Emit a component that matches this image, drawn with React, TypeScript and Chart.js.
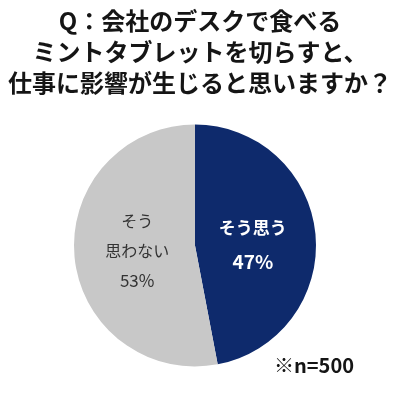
import React, { useEffect, useRef } from "react";
import { Chart, registerables } from "chart.js";

Chart.register(...registerables);

const titleLines = ["Q：会社のデスクで食べる", "ミントタブレットを切らすと、", "仕事に影響が生じると思いますか？"];
const categories = ["そう思う", "そう思わない"];
const values = [47, 53];
const sliceLabelLines = [["そう思う", "47%"], ["そう", "思わない", "53%"]];
const footnote = "※n=500";

const FONT = "'Noto Sans CJK JP', 'Noto Sans', sans-serif";

const overlayPlugin = {
  id: "overlay",
  afterDraw(chart: any) {
    const ctx = chart.ctx;
    ctx.save();
    // title
    ctx.fillStyle = "#151515";
    ctx.font = `bold 24px ${FONT}`;
    ctx.textAlign = "center";
    ctx.textBaseline = "middle";
    titleLines.forEach((t, i) => ctx.fillText(t, 200, 21 + i * 31));

    // slice labels
    const meta = chart.getDatasetMeta(0);
    meta.data.forEach((arc: any, i: number) => {
      const mid = (arc.startAngle + arc.endAngle) / 2;
      const d = arc.outerRadius * 0.48;
      const x = arc.x + Math.cos(mid) * d;
      let y = arc.y + Math.sin(mid) * d;
      const lines = sliceLabelLines[i];
      const dark = i === 0;
      ctx.fillStyle = dark ? "#ffffff" : "#333333";
      const gap = dark ? 34 : 30;
      if (dark) y += 5;
      const top = y - ((lines.length - 1) * gap) / 2;
      lines.forEach((l, j) => {
        ctx.font = dark ? `bold ${j === lines.length - 1 ? 19 : 17}px ${FONT}` : `${j === lines.length - 1 ? 17 : 16}px ${FONT}`;
        ctx.fillText(l, x, top + j * gap);
      });
    });

    // footnote
    ctx.fillStyle = "#151515";
    ctx.font = `bold 20px ${FONT}`;
    ctx.textAlign = "left";
    ctx.fillText(footnote, 274, 365);
    ctx.restore();
  },
};

export default function App() {
  const ref = useRef<HTMLCanvasElement>(null);
  useEffect(() => {
    document.body.style.margin = "0";
    const chart = new Chart(ref.current!, {
      type: "pie",
      data: {
        labels: categories,
        datasets: [
          {
            data: values,
            backgroundColor: ["#0e2a6c", "#c8c8c8"],
            borderWidth: 0,
          },
        ],
      },
      options: {
        responsive: false,
        animation: false,
        layout: { padding: { top: 124, bottom: 30, left: 74, right: 84 } },
        plugins: { legend: { display: false }, tooltip: { enabled: false }, title: { display: false } },
      },
      plugins: [overlayPlugin],
    });
    return () => chart.destroy();
  }, []);
  return (
    <div style={{ width: 400, height: 397, background: "#fff" }}>
      <canvas ref={ref} width={400} height={397} />
    </div>
  );
}
